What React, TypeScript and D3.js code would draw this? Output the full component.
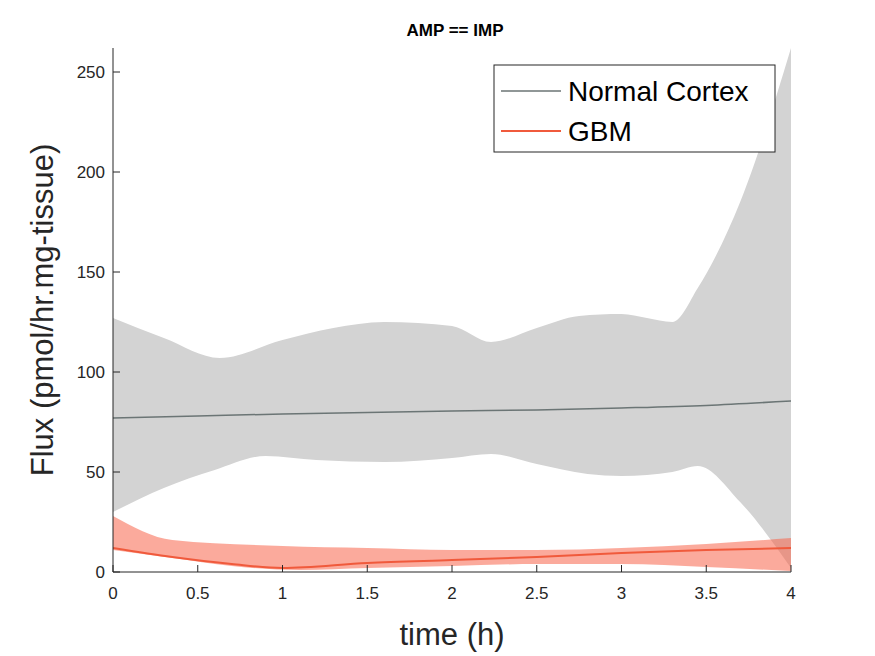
import * as d3 from "d3";

const ncUpper: [number, number][] = [[0, 127], [0.3, 117], [0.63, 107], [1.0, 116], [1.3, 122], [1.6, 125], [2.0, 123], [2.23, 115], [2.5, 122], [2.75, 128], [3.0, 129], [3.15, 127], [3.3, 125], [3.45, 142], [3.7, 185], [4.0, 262]];
const ncLower: [number, number][] = [[0, 30], [0.3, 42], [0.6, 51], [0.9, 58], [1.2, 56], [1.6, 55], [2.0, 57], [2.23, 59], [2.5, 54], [2.8, 49], [3.0, 48], [3.3, 50], [3.45, 53], [3.7, 35], [4.0, 2]];
const ncMean: [number, number][] = [[0, 77], [0.5, 78], [1, 79], [1.5, 79.8], [2, 80.5], [2.5, 81], [3, 82], [3.5, 83.3], [4, 85.5]];
const gbmUpper: [number, number][] = [[0, 28], [0.35, 16], [1, 13], [1.5, 12], [2, 11], [2.5, 11], [3, 12], [3.5, 14], [4, 17]];
const gbmLower: [number, number][] = [[0, 11], [0.35, 7], [0.7, 3], [1.1, 1], [1.5, 2], [2, 3], [2.5, 4], [3, 4], [3.5, 2.5], [4, 0.5]];
const gbmMean: [number, number][] = [[0, 12], [0.35, 7.5], [0.7, 4], [1, 2], [1.5, 4.5], [2, 6], [2.5, 7.5], [3, 9.5], [3.5, 11], [4, 12]];
const xTicks = [0, 0.5, 1, 1.5, 2, 2.5, 3, 3.5, 4];
const yTicks = [0, 50, 100, 150, 200, 250];

const W = 875, H = 656;
const L = 113, R = 791, T = 48, B = 572;

export default function App() {
  const x = d3.scaleLinear().domain([0, 4]).range([L, R]);
  const y = d3.scaleLinear().domain([0, 262]).range([B, T]);
  const curve = d3.curveMonotoneX;
  const band = (up: [number, number][], lo: [number, number][]) => {
    const line = d3.line<[number, number]>().x((d) => x(d[0])).y((d) => y(d[1])).curve(curve);
    const a = line(up) ?? "";
    const b = line([...lo].reverse()) ?? "";
    return a + "L" + b.slice(1) + "Z";
  };
  const line = d3.line<[number, number]>().x((d) => x(d[0])).y((d) => y(d[1])).curve(curve);
  const font = "Helvetica, Arial, 'Liberation Sans', sans-serif";
  return (
    <svg width={W} height={H} style={{ position: "absolute", left: 0, top: 0, background: "#fff" }} fontFamily={font}>
      <defs>
        <clipPath id="plot"><rect x={L} y={T} width={R - L} height={B - T} /></clipPath>
      </defs>
      <g clipPath="url(#plot)">
        <path d={band(ncUpper, ncLower)} fill="#d3d3d3" />
        <path d={band(gbmUpper, gbmLower)} fill="#f8644a" fillOpacity={0.55} />
        <path d={line(ncMean) ?? ""} fill="none" stroke="#6b7575" strokeWidth={1.5} />
        <path d={line(gbmMean) ?? ""} fill="none" stroke="#f05a3c" strokeWidth={2} />
      </g>
      <line x1={L} x2={L} y1={T} y2={B} stroke="#262626" />
      <line x1={L} x2={R} y1={B} y2={B} stroke="#262626" />
      {xTicks.map((t) => (
        <g key={t}>
          <line x1={x(t)} x2={x(t)} y1={B} y2={B - 7} stroke="#262626" />
          <text x={x(t)} y={B + 27} textAnchor="middle" fontSize={17} fill="#262626">{t}</text>
        </g>
      ))}
      {yTicks.map((t) => (
        <g key={t}>
          <line x1={L} x2={L + 7} y1={y(t)} y2={y(t)} stroke="#262626" />
          <text x={L - 8} y={y(t) + 6} textAnchor="end" fontSize={17} fill="#262626">{t}</text>
        </g>
      ))}
      <text x={455} y={36} textAnchor="middle" fontSize={17} fontWeight="bold">AMP == IMP</text>
      <text x={452} y={645} textAnchor="middle" fontSize={31} fill="#262626">time (h)</text>
      <text transform={`translate(53,${(T + B) / 2}) rotate(-90)`} textAnchor="middle" fontSize={31} fill="#262626">Flux (pmol/hr.mg-tissue)</text>
      <rect x={494} y={65} width={281} height={87} fill="#fff" stroke="#262626" />
      <line x1={501} x2={561} y1={91} y2={91} stroke="#6b7575" strokeWidth={1.5} />
      <text x={568} y={101} fontSize={28}>Normal Cortex</text>
      <line x1={501} x2={561} y1={131} y2={131} stroke="#f05a3c" strokeWidth={2} />
      <text x={568} y={141} fontSize={28}>GBM</text>
    </svg>
  );
}
